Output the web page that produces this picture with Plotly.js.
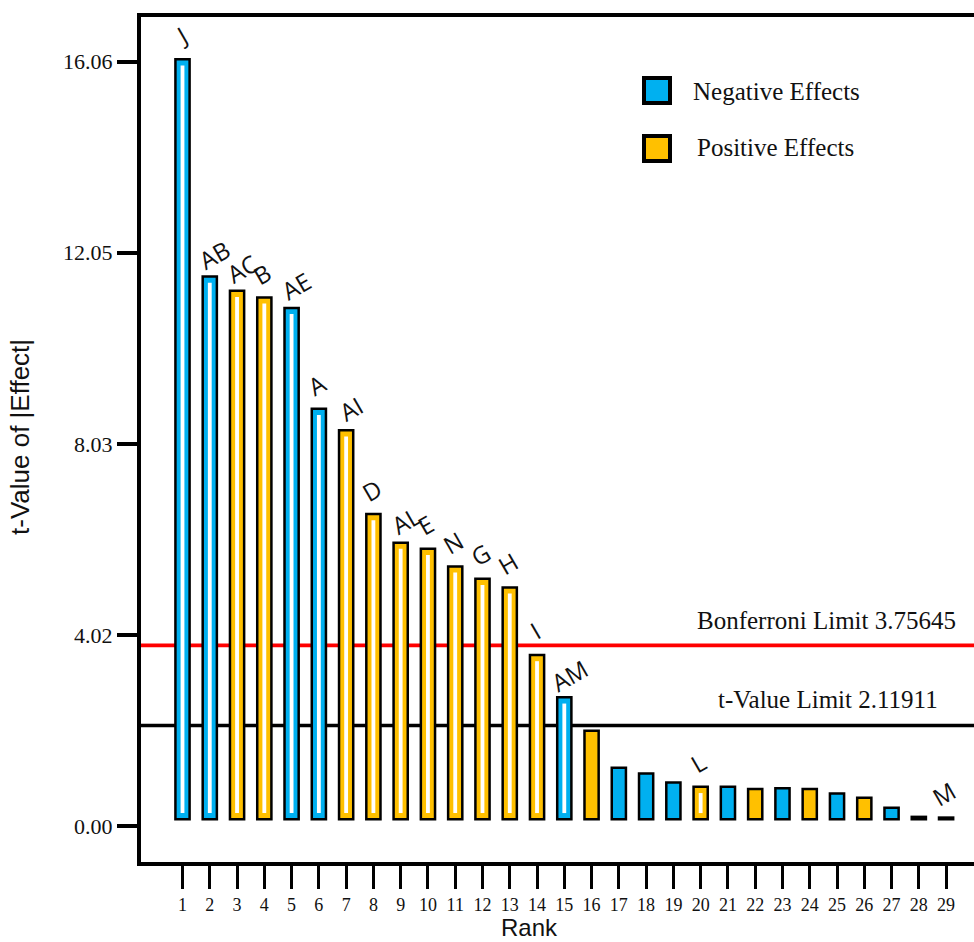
<!DOCTYPE html>
<html><head><meta charset="utf-8">
<script src="https://cdn.plot.ly/plotly-3.0.1.min.js"></script>
<style>html,body{margin:0;padding:0;overflow:hidden;background:#fff}#chart{width:980px;height:942px}</style>
</head><body><div id="chart"></div>
<script>
// ---- data ----
const ranks = [1,2,3,4,5,6,7,8,9,10,11,12,13,14,15,16,17,18,19,20,21,22,23,24,25,26,27,28,29];
const tValues = [16.11,11.55,11.25,11.11,10.89,8.77,8.32,6.56,5.96,5.83,5.46,5.20,5.02,3.60,2.71,2.01,1.23,1.11,0.92,0.83,0.83,0.785,0.80,0.785,0.69,0.60,0.39,0.20,0.185];
const effectLabels = ['J','AB','AC','B','AE','A','AI','D','AL','E','N','G','H','I','AM','','','','','L','','','','','','','','','M'];
const effectSign = ['neg','neg','pos','pos','neg','neg','pos','pos','pos','pos','pos','pos','pos','pos','neg','pos','neg','neg','neg','pos','neg','pos','neg','pos','neg','pos','neg','neg','neg'];
const stripedRanks = [1,2,3,4,5,6,7,8,9,10,11,12,13,14,15,20];
const yTickVals = [0, 4.02, 8.03, 12.05, 16.06];
const xTickVals = ranks;
const bonferroniLine = 3.80;
const bonferroniText = 'Bonferroni Limit 3.75645';
const tLimitLine = 2.11911;
const tLimitText = 't-Value Limit 2.11911';
const legendNames = ['Negative Effects', 'Positive Effects'];

// ---- styling ----
const BLUE = '#00B0F0', GOLD = '#FFC000';
const BASE = 0.15, INSET = 0.13;
const colorOf = s => s === 'neg' ? BLUE : GOLD;

const PL = 141, PT = 17, PW = 837, PH = 845;
const px = x => (x - PL) / PW;
const py = y => (PT + PH - y) / PH;

const mainBars = {
  type: 'bar', x: ranks, y: tValues.map(v => v - BASE), base: BASE,
  width: 0.52,
  marker: { color: effectSign.map(colorOf), line: { color: '#000', width: 2.5 } },
  hoverinfo: 'skip', showlegend: false
};
const sx = [], sy = [];
ranks.forEach((r, i) => { if (stripedRanks.includes(r)) { sx.push(r); sy.push(tValues[i] - BASE - 2 * INSET); } });
const stripes = {
  type: 'bar', x: sx, y: sy, base: BASE + INSET, width: 0.14,
  marker: { color: '#ffffff', line: { width: 0 } },
  hoverinfo: 'skip', showlegend: false
};

const annotations = [];
ranks.forEach((r, i) => {
  const t = effectLabels[i];
  if (!t) return;
  const extra = t.length - 1;
  annotations.push({
    x: r, y: tValues[i], xref: 'x', yref: 'y', text: t,
    showarrow: false, xanchor: 'center', yanchor: 'middle',
    xshift: -2 + extra * 7, yshift: 24 - extra * 2, textangle: -30,
    font: { family: 'Open Sans', size: 24, color: '#111' }
  });
});
const serif = (size) => ({ family: 'Liberation Serif', size: size, color: '#111' });
annotations.push(
  { x: px(958), y: py(620), xref: 'paper', yref: 'paper', text: bonferroniText, showarrow: false, xanchor: 'right', yanchor: 'middle', font: serif(25) },
  { x: px(940), y: py(699), xref: 'paper', yref: 'paper', text: tLimitText, showarrow: false, xanchor: 'right', yanchor: 'middle', font: serif(25) },
  { x: px(691), y: py(91), xref: 'paper', yref: 'paper', text: legendNames[0], showarrow: false, xanchor: 'left', yanchor: 'middle', font: serif(25) },
  { x: px(695), y: py(148), xref: 'paper', yref: 'paper', text: legendNames[1], showarrow: false, xanchor: 'left', yanchor: 'middle', font: serif(25) },
  { x: px(529), y: py(927), xref: 'paper', yref: 'paper', text: 'Rank', showarrow: false, xanchor: 'center', yanchor: 'middle', font: { family: 'Liberation Sans', size: 24, color: '#111' } },
  { x: px(20), y: py(437), xref: 'paper', yref: 'paper', text: 't-Value of |Effect|', showarrow: false, xanchor: 'center', yanchor: 'middle', textangle: -90, font: { family: 'Liberation Sans', size: 26, color: '#111' } }
);

const shapes = [
  { type: 'line', xref: 'paper', x0: 0, x1: 1, yref: 'y', y0: bonferroniLine, y1: bonferroniLine, line: { color: '#FF0000', width: 3.7 }, layer: 'below' },
  { type: 'line', xref: 'paper', x0: 0, x1: 1, yref: 'y', y0: tLimitLine, y1: tLimitLine, line: { color: '#000000', width: 3.7 }, layer: 'below' },
  { type: 'rect', xref: 'paper', yref: 'paper', x0: px(644), x1: px(670), y0: py(103), y1: py(78), fillcolor: BLUE, line: { color: '#000', width: 4 } },
  { type: 'rect', xref: 'paper', yref: 'paper', x0: px(644), x1: px(670), y0: py(161), y1: py(136), fillcolor: GOLD, line: { color: '#000', width: 4 } }
];

const layout = {
  width: 980, height: 942,
  margin: { l: PL, r: 2, t: PT, b: 942 - PT - PH },
  paper_bgcolor: '#fff', plot_bgcolor: '#fff',
  barmode: 'overlay', showlegend: false,
  xaxis: {
    range: [-0.522, 30.17], tickvals: xTickVals, ticktext: xTickVals.map(String),
    ticks: 'outside', ticklen: 23, tickwidth: 3, tickcolor: '#000',
    showline: true, linecolor: '#000', linewidth: 4, mirror: true,
    showgrid: false, zeroline: false,
    tickfont: serif(18)
  },
  yaxis: {
    range: [-0.748, 17.0], tickvals: yTickVals, tickformat: '.2f',
    ticks: 'outside', ticklen: 20, tickwidth: 4, tickcolor: '#000',
    showline: true, linecolor: '#000', linewidth: 4, mirror: true,
    showgrid: false, zeroline: false,
    tickfont: serif(22)
  },
  shapes: shapes,
  annotations: annotations
};

Plotly.newPlot('chart', [mainBars, stripes], layout, { displayModeBar: false, staticPlot: true });
</script>
</body></html>
